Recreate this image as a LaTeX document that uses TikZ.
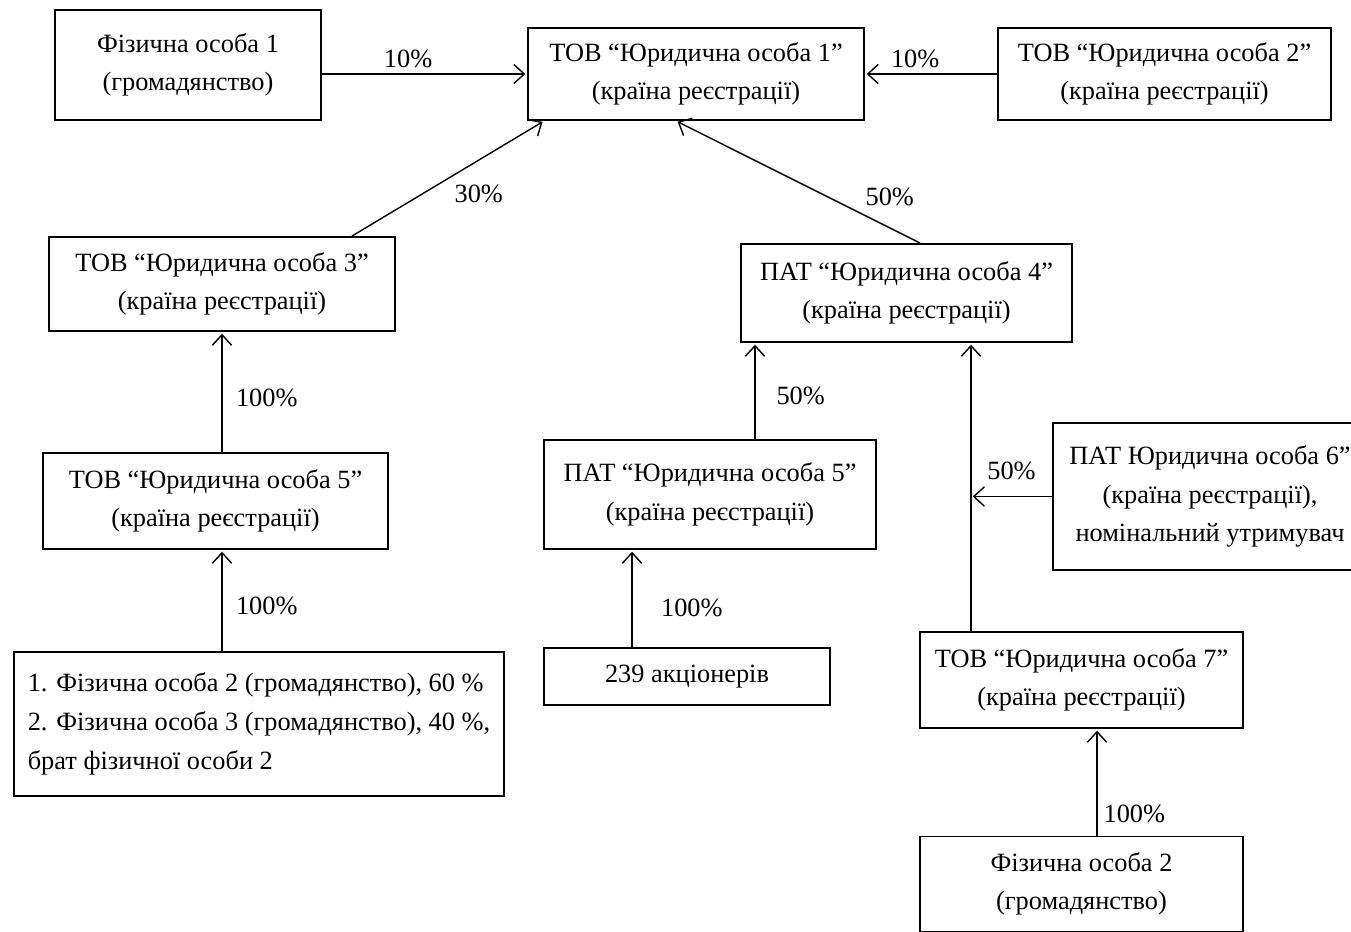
\documentclass[tikz,border=0pt]{standalone}
\usepackage{fontspec}
\setmainfont{Liberation Serif}
\usetikzlibrary{arrows.meta}
\tikzset{
ent/.style={draw,line width=1.1pt,align=center,font=\fontsize{15}{22}\selectfont},
own/.style={line width=0.8pt,-{Straight Barb[length=6pt,width=11pt]},shorten >=1pt},
pct/.style={font=\fontsize{15}{18}\selectfont}
}
\begin{document}
\begin{tikzpicture}[x=0.02cm,y=-0.02cm]
\useasboundingbox (0,0) rectangle (1351,932);
\node[ent,minimum width=5.32cm,minimum height=2.2cm](fo1) at (188,65){Фізична особа 1\\(громадянство)};
\node[ent,minimum width=6.72cm,minimum height=1.84cm](yo1) at (696,74){ТОВ “Юридична особа 1”\\(країна реєстрації)};
\node[ent,minimum width=6.66cm,minimum height=1.84cm](yo2) at (1164.5,74){ТОВ “Юридична особа 2”\\(країна реєстрації)};
\node[ent,minimum width=6.92cm,minimum height=1.88cm](yo3) at (222,284){ТОВ “Юридична особа 3”\\(країна реєстрації)};
\node[ent,minimum width=6.62cm,minimum height=1.96cm](yo4) at (906.5,293){ПАТ “Юридична особа 4”\\(країна реєстрації)};
\node[ent,minimum width=6.9cm,minimum height=1.92cm](yo5t) at (215.5,501){ТОВ “Юридична особа 5”\\(країна реєстрації)};
\node[ent,minimum width=6.64cm,minimum height=2.18cm](yo5p) at (710,494.5){ПАТ “Юридична особа 5”\\(країна реєстрації)};
\node[ent,minimum width=6.28cm,minimum height=2.94cm](yo6) at (1210,496.5){ПАТ Юридична особа 6”\\(країна реєстрації),\\номінальний утримувач};
\node[ent,align=left,minimum width=9.8cm,minimum height=2.88cm](fo23) at (259,724){1. Фізична особа 2 (громадянство), 60 \%\\2. Фізична особа 3 (громадянство), 40 \%,\\брат фізичної особи 2};
\node[ent,minimum width=5.72cm,minimum height=1.14cm](akc) at (687,676.5){239 акціонерів};
\node[ent,minimum width=6.46cm,minimum height=1.92cm](yo7) at (1081.5,680){ТОВ “Юридична особа 7”\\(країна реєстрації)};
\node[ent,minimum width=6.46cm,minimum height=1.9cm](fo2) at (1081.5,884){Фізична особа 2\\(громадянство)};
\coordinate (k4) at (971,632);
\draw[own](fo1.east |- yo1.west)--node[pct,pos=0.42,above]{10\%}(yo1.west);
\draw[own](yo2.west)--node[pct,pos=0.62,above]{10\%}(yo1.east);
\draw[own]([xshift=2.6cm]yo3.north)--node[pct,pos=0.5,anchor=north west]{30\%}([xshift=0.34cm]yo1.south west);
\draw[own]([xshift=0.27cm]yo4.north)--node[pct,pos=0.25,anchor=south west]{50\%}([xshift=-0.4cm]yo1.south);
\draw[own](yo5t.north -| yo3.south)--node[pct,pos=0.45,right,xshift=0.15cm]{100\%}(yo3.south);
\draw[own](fo23.north -| yo3.south)--node[pct,pos=0.45,right,xshift=0.15cm]{100\%}(yo5t.south -| yo3.south);
\draw[own]([xshift=0.9cm]yo5p.north)--node[pct,pos=0.45,right,xshift=0.3cm]{50\%}([xshift=0.9cm]yo5p.north |- yo4.south);
\draw[own]([xshift=-1.1cm]akc.north)--node[pct,pos=0.4,right,xshift=0.45cm]{100\%}([xshift=-1.1cm]akc.north |- yo5p.south);
\draw[own](k4)--(k4 |- yo4.south);
\draw[own](yo6.west)--node[pct,midway,above,yshift=0.2cm]{50\%}(yo6.west -| k4);
\draw[own]([xshift=0.31cm]fo2.north)--node[pct,pos=0.2,right]{100\%}([xshift=0.31cm]fo2.north |- yo7.south);
\end{tikzpicture}
\end{document}
